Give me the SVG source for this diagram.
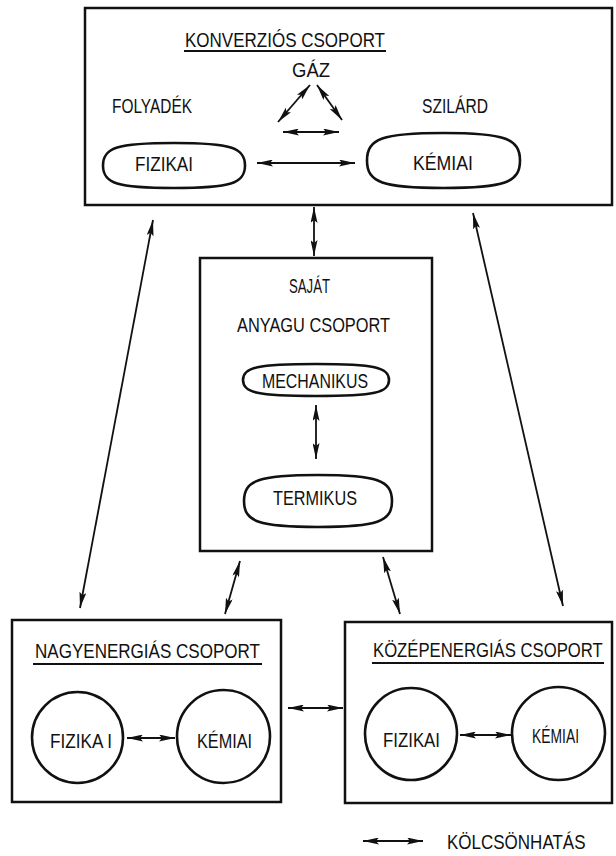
<svg xmlns="http://www.w3.org/2000/svg" width="616" height="856" viewBox="0 0 616 856">
  <style>
    .box { fill: none; stroke: #111; stroke-width: 2.5; }
    .blob { fill: none; stroke: #111; stroke-width: 2.6; }
    .ul { stroke: #111; stroke-width: 2; }
    .t { font-family: "Liberation Sans", "DejaVu Sans", sans-serif; font-size: 21px; fill: #111; }
    .c { stroke: #111; stroke-width: 1.8; fill: none; marker-start: url(#ah); marker-end: url(#ah); }
  </style>
  <defs>
    <marker id="ah" viewBox="0 0 16 7" refX="16" refY="3.5" markerWidth="16" markerHeight="7" orient="auto-start-reverse" markerUnits="userSpaceOnUse">
      <path d="M0,0 L16,3.5 L0,7 L3,3.5 Z" fill="#111"/>
    </marker>
  </defs>
  <rect width="616" height="856" fill="#fff"/>

  <!-- conversion group -->
  <g id="konverzios">
    <rect class="box" x="85" y="8" width="527" height="197"/>
    <text class="t" x="185" y="47" textLength="200" lengthAdjust="spacingAndGlyphs">KONVERZIÓS CSOPORT</text>
    <line class="ul" x1="184" y1="51" x2="386" y2="51"/>
    <text class="t" x="292" y="77" textLength="38" lengthAdjust="spacingAndGlyphs">GÁZ</text>
    <text class="t" x="112" y="113" textLength="80" lengthAdjust="spacingAndGlyphs">FOLYADÉK</text>
    <text class="t" x="422" y="113" textLength="66" lengthAdjust="spacingAndGlyphs">SZILÁRD</text>
  </g>
  <g id="konv-fizikai">
    <path class="blob" d="M103,165.5 C103,147.5 117.2,143 174,143 C230.8,143 245,147.5 245,165.5 C245,183.5 230.8,188 174,188 C117.2,188 103,183.5 103,165.5 Z"/>
    <text class="t" x="135" y="171" textLength="58" lengthAdjust="spacingAndGlyphs">FIZIKAI</text>
  </g>
  <g id="konv-kemiai">
    <path class="blob" d="M367,160.5 C367,138.5 382.3,133 443.5,133 C504.7,133 520,138.5 520,160.5 C520,182.5 504.7,188 443.5,188 C382.3,188 367,182.5 367,160.5 Z"/>
    <text class="t" x="413" y="170" textLength="60" lengthAdjust="spacingAndGlyphs">KÉMIAI</text>
  </g>

  <!-- own-material group -->
  <g id="sajat">
    <rect class="box" x="200" y="258" width="232" height="293"/>
    <text class="t" x="289" y="293" textLength="41" lengthAdjust="spacingAndGlyphs">SAJÁT</text>
    <text class="t" x="237" y="332" textLength="153" lengthAdjust="spacingAndGlyphs">ANYAGU CSOPORT</text>
  </g>
  <g id="mechanikus">
    <path class="blob" d="M243,380 C243,367.2 257.6,364 316,364 C374.4,364 389,367.2 389,380 C389,392.8 374.4,396 316,396 C257.6,396 243,392.8 243,380 Z"/>
    <text class="t" x="262" y="388" textLength="106" lengthAdjust="spacingAndGlyphs">MECHANIKUS</text>
  </g>
  <g id="termikus">
    <path class="blob" d="M244,501 C244,480.2 258.8,475 318,475 C377.2,475 392,480.2 392,501 C392,521.8 377.2,527 318,527 C258.8,527 244,521.8 244,501 Z"/>
    <text class="t" x="273" y="505" textLength="84" lengthAdjust="spacingAndGlyphs">TERMIKUS</text>
  </g>

  <!-- high-energy group -->
  <g id="nagyenergias">
    <rect class="box" x="12" y="620" width="269" height="182"/>
    <text class="t" x="35" y="658" textLength="225" lengthAdjust="spacingAndGlyphs">NAGYENERGIÁS CSOPORT</text>
    <line class="ul" x1="33" y1="664" x2="262" y2="664"/>
  </g>
  <g id="nagy-fizikai">
    <circle class="blob" cx="77.5" cy="737.5" r="45.5"/>
    <text class="t" x="50" y="748" textLength="62" lengthAdjust="spacingAndGlyphs">FIZIKA I</text>
  </g>
  <g id="nagy-kemiai">
    <circle class="blob" cx="223.5" cy="736.5" r="46.5"/>
    <text class="t" x="197" y="748" textLength="55" lengthAdjust="spacingAndGlyphs">KÉMIAI</text>
  </g>

  <!-- medium-energy group -->
  <g id="kozepenergias">
    <rect class="box" x="345" y="622" width="267" height="181"/>
    <text class="t" transform="translate(373,657) scale(0.795,1)">KÖZÉPENERGIÁS CSOPORT</text>
    <line class="ul" x1="372" y1="663" x2="604" y2="663"/>
  </g>
  <g id="kozep-fizikai">
    <circle class="blob" cx="411" cy="734" r="46"/>
    <text class="t" x="383" y="747" textLength="57" lengthAdjust="spacingAndGlyphs">FIZIKAI</text>
  </g>
  <g id="kozep-kemiai">
    <circle class="blob" cx="558.5" cy="733.5" r="46.5"/>
    <text class="t" x="532" y="743" textLength="47" lengthAdjust="spacingAndGlyphs">KÉMIAI</text>
  </g>

  <!-- legend -->
  <g id="legend">
    <line class="c" x1="363" y1="841" x2="423" y2="841"/>
    <text class="t" transform="translate(447,849) scale(0.81,1)">KÖLCSÖNHATÁS</text>
  </g>

  <!-- interaction connectors -->
  <g id="connectors">
    <line class="c" x1="310" y1="85" x2="278" y2="122"/>
    <line class="c" x1="317" y1="85" x2="342" y2="120"/>
    <line class="c" x1="283" y1="132" x2="339" y2="132"/>
    <line class="c" x1="257" y1="163" x2="355" y2="163"/>
    <line class="c" x1="314" y1="207" x2="314" y2="256"/>
    <line class="c" x1="316" y1="405" x2="316" y2="459"/>
    <line class="c" x1="153" y1="220" x2="80" y2="608"/>
    <line class="c" x1="473" y1="213" x2="563" y2="606"/>
    <line class="c" x1="240" y1="561" x2="225" y2="614"/>
    <line class="c" x1="383" y1="557" x2="400" y2="614"/>
    <line class="c" x1="288" y1="708" x2="343" y2="708"/>
    <line class="c" x1="127" y1="738" x2="175" y2="738"/>
    <line class="c" x1="460" y1="735" x2="511" y2="735"/>
  </g>
</svg>
